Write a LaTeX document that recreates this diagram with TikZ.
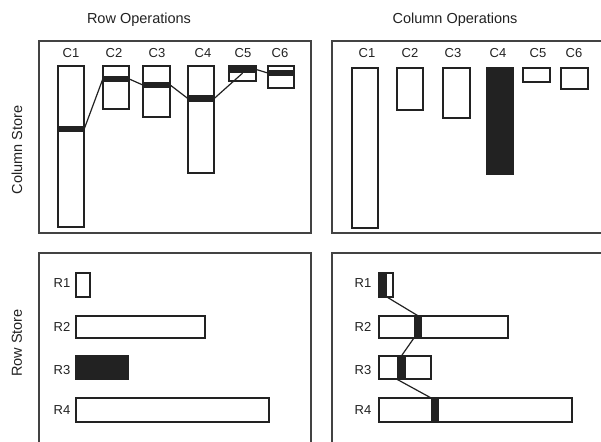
\documentclass[tikz,border=0pt]{standalone}
\usepackage{fontspec}
\setmainfont{Liberation Sans}
\usetikzlibrary{fit}
\definecolor{ink}{HTML}{222222}
\tikzset{
  panel/.style={draw=ink!85, line width=1.2pt},
  bar/.style={draw=ink, line width=1.5pt, inner sep=0pt, fill=white},
  solid bar/.style={bar, fill=ink},
  band/.style={fill=ink, draw=none, inner sep=0pt},
  link/.style={draw=ink, line width=1.2pt},
  title/.style={font=\fontsize{14.5}{16}\selectfont, text=ink},
  lab/.style={font=\fontsize{13}{14}\selectfont, text=ink},
}
\begin{document}
\begin{tikzpicture}[x=1pt,y=-1pt]
\clip (0,0) rectangle (601,441);
\fill[white] (0,0) rectangle (601,441);
% panels
\draw[panel] (39,41) rectangle (311,233);
\draw[panel] (332,41) rectangle (630,233);
\draw[panel] (39,253) rectangle (311,470);
\draw[panel] (332,253) rectangle (630,470);
% titles
\node[title] (t1) at (139,20) {Row Operations};
\node[title] (t2) at (455,20) {Column Operations};
\node[title, rotate=90] (t3) at (17,150) {Column Store};
\node[title, rotate=90] (t4) at (17,343) {Row Store};
% top-left: row operations on column store
\foreach \n/\x in {1/71,2/114,3/157,4/203,5/243,6/280}
  \node[lab] (lc\n) at (\x,53) {C\n};
\node[bar, fit={(58,66) (84,227)}] (ac1) {};
\node[bar, fit={(103,66) (129,109)}] (ac2) {};
\node[bar, fit={(143,66) (170,117)}] (ac3) {};
\node[bar, fit={(188,66) (214,173)}] (ac4) {};
\node[bar, fit={(229,66) (256,81)}] (ac5) {};
\node[bar, fit={(268,66) (294,88)}] (ac6) {};
\node[band, fit={(58,126) (84,132)}] (bc1) {};
\node[band, fit={(103,76) (129,82)}] (bc2) {};
\node[band, fit={(143,82) (170,88)}] (bc3) {};
\node[band, fit={(188,95) (214,102)}] (bc4) {};
\node[band, fit={(229,66) (256,73)}] (bc5) {};
\node[band, fit={(268,70) (294,76)}] (bc6) {};
\draw[link] (bc1.east) -- (bc2.west);
\draw[link] (bc2.east) -- (bc3.west);
\draw[link] (bc3.east) -- (bc4.west);
\draw[link] (bc4.east) -- (bc5.south);
\draw[link] (bc5.east) -- (bc6.west);
% top-right: column operations on column store
\foreach \n/\x in {1/367,2/410,3/453,4/498,5/538,6/574}
  \node[lab] (rc\n) at (\x,53) {C\n};
\node[bar, fit={(352,68) (378,228)}] (cc1) {};
\node[bar, fit={(397,68) (423,110)}] (cc2) {};
\node[bar, fit={(443,68) (470,118)}] (cc3) {};
\node[solid bar, fit={(487,68) (513,174)}] (cc4) {};
\node[bar, fit={(523,68) (550,82)}] (cc5) {};
\node[bar, fit={(561,68) (588,89)}] (cc6) {};
% bottom-left: row operations on row store
\foreach \n/\y in {1/283,2/327,3/370,4/410}
  \node[lab] (lr\n) at (62,\y) {R\n};
\node[bar, fit={(76,273) (90,297)}] (ar1) {};
\node[bar, fit={(76,316) (205,338)}] (ar2) {};
\node[solid bar, fit={(76,356) (128,379)}] (ar3) {};
\node[bar, fit={(76,398) (269,422)}] (ar4) {};
% bottom-right: column operations on row store
\foreach \n/\y in {1/283,2/327,3/370,4/410}
  \node[lab] (rr\n) at (363,\y) {R\n};
\node[bar, fit={(379,273) (393,297)}] (cr1) {};
\node[bar, fit={(379,316) (508,338)}] (cr2) {};
\node[bar, fit={(379,356) (431,379)}] (cr3) {};
\node[bar, fit={(379,398) (572,422)}] (cr4) {};
\node[band, fit={(379,273) (387,297)}] (br1) {};
\node[band, fit={(414,316) (422,338)}] (br2) {};
\node[band, fit={(397,356) (406,379)}] (br3) {};
\node[band, fit={(431,398) (439,422)}] (br4) {};
\draw[link] (br1.south east) -- (br2.north);
\draw[link] (br2.south west) -- (br3.north);
\draw[link] (br3.south west) -- (br4.north west);
\end{tikzpicture}
\end{document}
